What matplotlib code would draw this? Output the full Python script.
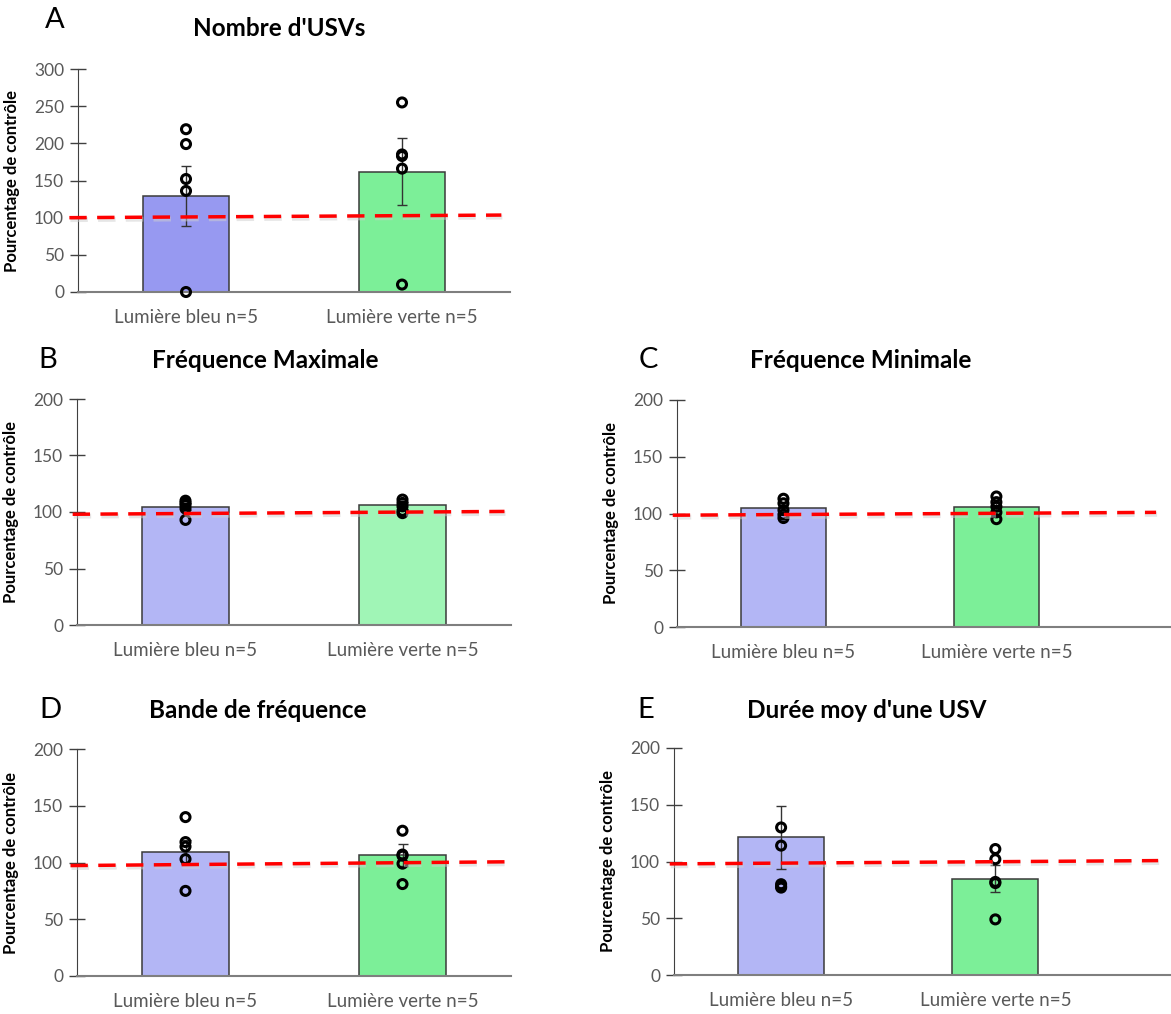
import numpy as np
import matplotlib
matplotlib.use('Agg')
import matplotlib.pyplot as plt
from matplotlib.transforms import ScaledTranslation

plt.rcParams['font.family'] = ['Lato', 'DejaVu Sans']

# data
groups = ['Lumière bleu n=5', 'Lumière verte n=5']
titles = ["Nombre d'USVs", 'Fréquence Maximale', 'Fréquence Minimale',
          'Bande de fréquence', "Durée moy d'une USV"]
letters = ['A', 'B', 'C', 'D', 'E']

means_A = [129, 162]
sem_A = [40, 45]
pts_A = [[219, 199, 152, 136, 0], [255, 185, 183, 166, 10]]

means_B = [104.6, 105.8]
sem_B = [3, 3]
pts_B = [[110, 108, 106, 103, 93], [111, 108, 105, 101, 99]]

means_C = [104.5, 105.5]
sem_C = [3, 3.5]
pts_C = [[113, 109, 103, 99, 96], [115, 110, 106, 101, 95]]

means_D = [109.2, 106.5]
sem_D = [10.5, 9.7]
pts_D = [[140, 118, 114, 103, 75], [128, 107, 106, 99, 81]]

means_E = [121.2, 84.7]
sem_E = [27.5, 12]
pts_E = [[130, 114, 80, 78, 77], [111, 102, 82, 81, 49]]

ymax = [300, 200, 200, 200, 200]
ref_y = [[100, 103.5], [98, 100.5], [98.5, 101], [97.3, 100.6], [97.9, 100.8]]

blue = ['#9799F1', '#B3B6F5', '#B3B6F5', '#B3B6F5', '#B3B6F5']
green = ['#7CEF98', '#A0F5B6', '#7CEF98', '#7CEF98', '#7CEF98']

W, H = 1171, 1014
fig = plt.figure(figsize=(W / 100, H / 100), dpi=100)

# panel boxes in pixels: left, top, right, bottom, xmax
boxes = [(78, 69, 510, 292, 1.5),
         (77, 399, 511, 625, 1.5),
         (677, 400, 1171, 627, 1.82),
         (77, 749, 511, 976, 1.5),
         (674, 748, 1171, 975, 1.82)]
ref_x = [[-0.54, 1.46], [-0.52, 1.47], [-0.52, 1.75], [-0.53, 1.47], [-0.52, 1.76]]
title_pos = [(279, 28), (265, 360), (861, 360), (258, 710), (867, 710)]
letter_pos = [(55, 20), (48, 360), (648, 360), (50, 710), (646, 710)]

all_means = [means_A, means_B, means_C, means_D, means_E]
all_sem = [sem_A, sem_B, sem_C, sem_D, sem_E]
all_pts = [pts_A, pts_B, pts_C, pts_D, pts_E]

grey = '#595959'
for i in range(5):
    l, t, r, b, xm = boxes[i]
    ax = fig.add_axes([l / W, 1 - b / H, (r - l) / W, (b - t) / H])
    x = np.arange(2)
    ax.bar(x, all_means[i], width=0.4, color=[blue[i], green[i]],
           edgecolor='#3a3a3a', linewidth=1.1, zorder=2)
    ax.errorbar(x, all_means[i], yerr=all_sem[i], fmt='none', ecolor='#333333',
                elinewidth=1, capsize=3.5, capthick=1, zorder=3)
    for j in range(2):
        ax.scatter([x[j]] * len(all_pts[i][j]), all_pts[i][j], s=42,
                   facecolors='none', edgecolors='black', linewidths=2.2,
                   zorder=4, clip_on=False)
    # soft shadow under the dashed reference line
    shadow = ax.transData + ScaledTranslation(1 / 100, -2 / 100, fig.dpi_scale_trans)
    ax.plot(ref_x[i], ref_y[i], color='#cfcfcf', lw=3.5, ls=(0, (3.6, 2.1)),
            zorder=4.5, clip_on=False, alpha=0.5, transform=shadow)
    ax.plot(ref_x[i], ref_y[i], color='#ff0000', lw=2.5, ls=(0, (5, 3)),
            zorder=5, clip_on=False)
    ax.set_xlim(-0.5, xm)
    ax.set_ylim(0, ymax[i])
    ax.set_yticks(np.arange(0, ymax[i] + 1, 50))
    ax.set_xticks(x)
    ax.set_xticklabels(groups, fontsize=13.5, color=grey)
    ax.tick_params(axis='x', length=0, pad=12)
    ax.tick_params(axis='y', direction='inout', length=12, width=1,
                   color='#404040', labelsize=12.5, labelcolor=grey, pad=4)
    for s in ['top', 'right']:
        ax.spines[s].set_visible(False)
    ax.spines['left'].set_color('#404040')
    ax.spines['bottom'].set_color('#7f7f7f')
    ax.spines['bottom'].set_linewidth(1.5)
    ax.set_ylabel('Pourcentage de contrôle', fontsize=12, fontweight='bold',
                  labelpad=10)

    tx, ty = title_pos[i]
    lx, ly = letter_pos[i]
    fig.text(tx / W, 1 - ty / H, titles[i], fontsize=17.5, fontweight='bold',
             ha='center', va='center')
    fig.text(lx / W, 1 - ly / H, letters[i], fontsize=21, ha='center', va='center')

fig.savefig('out.png', dpi=100)
